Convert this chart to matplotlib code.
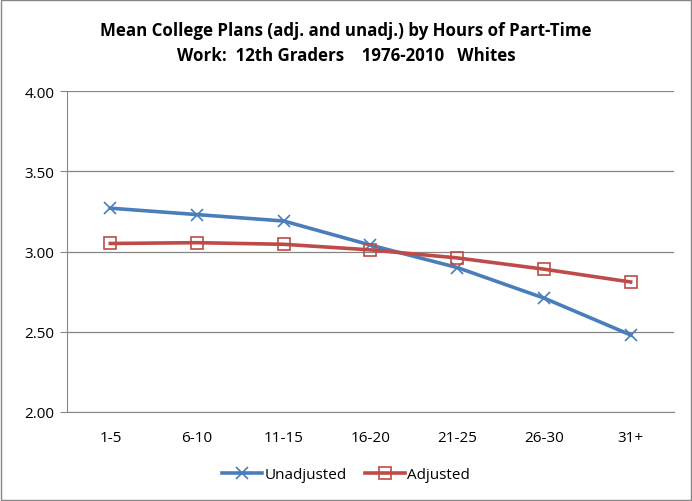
import matplotlib.pyplot as plt
from matplotlib.patches import Rectangle

# dados
categorias = ["1-5", "6-10", "11-15", "16-20", "21-25", "26-30", "31+"]
nao_ajustado = [3.27, 3.23, 3.19, 3.04, 2.90, 2.71, 2.48]
ajustado = [3.05, 3.055, 3.045, 3.01, 2.96, 2.89, 2.81]
ticks_y = [2.00, 2.50, 3.00, 3.50, 4.00]

plt.rcParams['font.family'] = ['Open Sans', 'DejaVu Sans']

fig = plt.figure(figsize=(6.92, 5.02), dpi=100)
ax = fig.add_axes([0.0968, 0.1773, 0.8772, 0.6394])

x = range(len(categorias))
ax.plot(x, nao_ajustado, color="#4A7EBB", lw=2.6, marker="x", ms=9, mew=1.2,
        label="Unadjusted")
ax.plot(x, ajustado, color="#BE4B48", lw=2.6, marker="s", ms=9, mew=1.2,
        mfc="none", label="Adjusted")

ax.set_xlim(-0.5, len(categorias) - 0.5)
ax.set_ylim(2.0, 4.0)
ax.set_yticks(ticks_y)
ax.set_yticklabels([f"{v:.2f}" for v in ticks_y], fontsize=11)
ax.set_xticks(list(x))
ax.set_xticklabels(categorias, fontsize=11)
ax.tick_params(axis="x", length=0, pad=13)
ax.tick_params(axis="y", length=5, color="#868686", pad=4)
ax.grid(axis="y", color="#868686", lw=0.9)
ax.set_axisbelow(True)

for s in ["top", "right"]:
    ax.spines[s].set_visible(False)
ax.spines["left"].set_color("#868686")
ax.spines["bottom"].set_color("#868686")

fig.text(0.5, 0.939, "Mean College Plans (adj. and unadj.) by Hours of Part-Time",
         ha="center", va="center", fontsize=12.2, fontweight="bold")
fig.text(0.5, 0.889, "Work:  12th Graders    1976-2010   Whites",
         ha="center", va="center", fontsize=12.2, fontweight="bold")

fig.legend(loc="center", bbox_to_anchor=(0.5, 0.052), ncol=2, frameon=False,
           fontsize=11, handlelength=2.6, handletextpad=0.15, columnspacing=1.2)

fig.patches.append(Rectangle((0.001, 0.001), 0.997, 0.997, transform=fig.transFigure,
                             fill=False, edgecolor="#868686", lw=1))

plt.savefig("out.png", dpi=100)
